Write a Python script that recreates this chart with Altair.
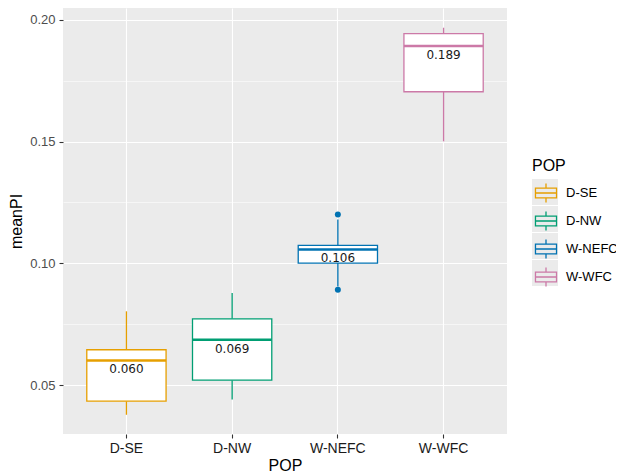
import altair as alt
import pandas as pd

# ---- data ----
pops = ["D-SE", "D-NW", "W-NEFC", "W-WFC"]
whisker_low = [0.0378, 0.0441, 0.0905, 0.1501]
q1 = [0.0434, 0.0520, 0.1001, 0.1705]
median = [0.0601, 0.0686, 0.1057, 0.1893]
q3 = [0.0645, 0.0772, 0.1074, 0.1944]
whisker_high = [0.0803, 0.0878, 0.1180, 0.1968]
outlier_pop = ["W-NEFC", "W-NEFC"]
outlier_val = [0.1201, 0.0892]
colors = ["#E69F00", "#009E73", "#0072B2", "#CC79A7"]
y_major = [0.05, 0.10, 0.15, 0.20]
y_minor = [0.075, 0.125, 0.175]

df = pd.DataFrame({"POP": pops, "lo": whisker_low, "q1": q1, "med": median,
                   "q3": q3, "hi": whisker_high})
df["key"] = df["POP"]  # second field for the grey legend-key backgrounds
out_df = pd.DataFrame({"POP": outlier_pop, "val": outlier_val})

W, H = 444, 426
step = W / 4.2
band = step * 0.75

FONT = "Liberation Sans"
minor_test = "abs(datum.value*20 - round(datum.value*20)) > 0.01"

cscale = alt.Scale(domain=pops, range=colors)
xscale = alt.Scale(domain=pops, paddingInner=0.25, paddingOuter=0.225)
yscale = alt.Scale(domain=[0.0299, 0.2049], nice=False, zero=False)

x_enc = alt.X("POP:N", sort=pops, scale=xscale,
              axis=alt.Axis(title="POP", labelAngle=0, bandPosition=0.5, grid=True,
                            gridColor="white", gridWidth=1.1, domain=False,
                            tickColor="#333333", tickSize=4, tickWidth=1.1,
                            labelColor="#1A1A1A", labelFontSize=14, labelFont=FONT,
                            labelPadding=3, titleFont=FONT, titleFontSize=16,
                            titleFontWeight="normal", titleColor="black",
                            titlePadding=2))

y_axis = alt.Axis(title="meanPI", values=sorted(y_major + y_minor),
                  labelExpr="abs(datum.value*20 - round(datum.value*20)) < 0.01 ? format(datum.value, '.2f') : ''",
                  grid=True, gridColor="white",
                  gridWidth={"condition": {"test": minor_test, "value": 0.55}, "value": 1.1},
                  tickOpacity={"condition": {"test": minor_test, "value": 0}, "value": 1},
                  domain=False, tickColor="#333333", tickSize=4, tickWidth=1.1,
                  labelColor="#4D4D4D", labelFontSize=13, labelFont=FONT, labelPadding=4,
                  titleFont=FONT, titleFontSize=16, titleFontWeight="normal",
                  titleColor="black", titlePadding=5)

legend_common = dict(orient="none", legendX=469, legendY=150,
                     labelFont=FONT, labelFontSize=13, labelColor="black",
                     titleFont=FONT, titleFontSize=16, titleFontWeight="normal",
                     titleColor="black", rowPadding=1, labelOffset=6, titlePadding=5,
                     symbolSize=676)

legend_path = "M-0.81,-0.38H0.81V0.38H-0.81Z M-0.81,0H0.81 M0,-0.38V-0.73 M0,0.38V0.73"

base = alt.Chart(df)

whiskers = base.mark_rule(strokeWidth=1.3).encode(
    x=x_enc,
    y=alt.Y("lo:Q", scale=yscale, axis=y_axis),
    y2="hi:Q",
    color=alt.Color("POP:N", scale=cscale, legend=None),
)

# grey bars hidden under the white box fill; they only supply the grey legend-key squares
key_bg = base.mark_bar(color="#EBEBEB").encode(
    x=x_enc,
    y=alt.Y("q1:Q", scale=yscale),
    y2="q3:Q",
    opacity=alt.Opacity("key:O", scale=alt.Scale(domain=pops[::-1], range=[1, 1, 1, 1]),
                        legend=alt.Legend(title="POP", symbolType="square",
                                          symbolFillColor="#EBEBEB", symbolStrokeWidth=0,
                                          labelOpacity=0, titleOpacity=0, zindex=0,
                                          **legend_common)),
)

box_fill = base.mark_bar(color="white").encode(
    x=x_enc,
    y=alt.Y("q1:Q", scale=yscale),
    y2="q3:Q",
)

box_outline = base.mark_bar(filled=False, strokeWidth=1.3).encode(
    x=x_enc,
    y=alt.Y("q1:Q", scale=yscale),
    y2="q3:Q",
    color=alt.Color("POP:N", scale=cscale,
                    legend=alt.Legend(title="POP", symbolType=legend_path, symbolStrokeWidth=1.3,
                                      symbolFillColor="white", zindex=1, **legend_common)),
)

medians = base.mark_tick(thickness=2.5, size=band, opacity=1).encode(
    x=x_enc,
    y=alt.Y("med:Q", scale=yscale),
    color=alt.Color("POP:N", scale=cscale, legend=None),
)

outliers = alt.Chart(out_df).mark_circle(size=36, opacity=1).encode(
    x=x_enc,
    y=alt.Y("val:Q", scale=yscale),
    color=alt.Color("POP:N", scale=cscale, legend=None),
)

labels = base.mark_text(dy=9, font="DejaVu Sans", fontSize=12, color="#1A1A1A").encode(
    x=x_enc,
    y=alt.Y("med:Q", scale=yscale),
    text=alt.Text("med:Q", format=".3f"),
)

chart = alt.layer(whiskers, key_bg, box_fill, box_outline, medians, outliers, labels).resolve_scale(
    color="independent"
).properties(
    width=W, height=H,
    autosize=alt.AutoSizeParams(type="none"),
    padding={"left": 55, "top": 0, "right": 109, "bottom": 38},
    background="white",
).configure_view(fill="#EBEBEB", stroke=None)

chart.save("out.html", embed_options={"renderer": "svg", "actions": False})
